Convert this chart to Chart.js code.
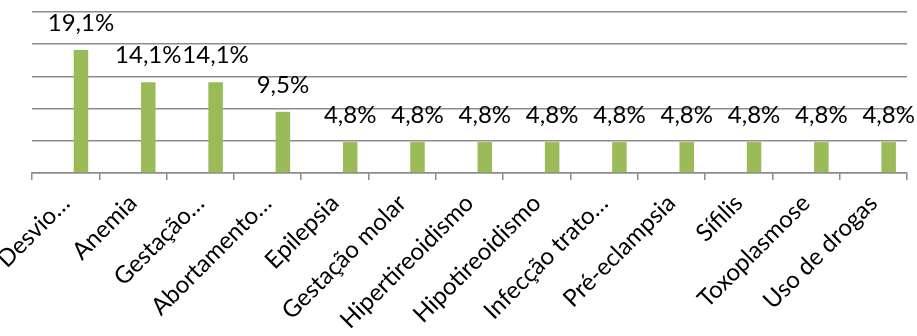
<!DOCTYPE html>
<html>
<head>
<meta charset="utf-8">
<script src="https://cdn.jsdelivr.net/npm/chart.js@4"></script>
<style>
  html, body { margin: 0; padding: 0; background: #ffffff; }
  canvas { display: block; }
</style>
</head>
<body>
<canvas id="riscoChart" width="917" height="336"></canvas>
<script>
// categorias e percentuais
const categorias = [
  "Desvio…", "Anemia", "Gestação…", "Abortamento…", "Epilepsia",
  "Gestação molar", "Hipertireoidismo", "Hipotireoidismo", "Infecção trato…",
  "Pré-eclampsia", "Sífilis", "Toxoplasmose", "Uso de drogas"
];
const percentuais = [19.1, 14.1, 14.1, 9.5, 4.8, 4.8, 4.8, 4.8, 4.8, 4.8, 4.8, 4.8, 4.8];
// série sem valores (ocupa a primeira posição de cada grupo)
const serieVazia = categorias.map(() => null);
const escalaMax = 25;
const escalaPasso = 5;

const fonte = "Lato, 'Open Sans', sans-serif";
const cinza = "#8c8c8c";

// rótulo de valor acima de cada barra
const rotulosValor = {
  id: "rotulosValor",
  afterDatasetsDraw(chart) {
    const ctx = chart.ctx;
    const meta = chart.getDatasetMeta(1);
    ctx.save();
    ctx.font = "24px " + fonte;
    ctx.fillStyle = "#000000";
    ctx.textAlign = "center";
    ctx.textBaseline = "bottom";
    meta.data.forEach((barra, i) => {
      const texto = percentuais[i].toFixed(1).replace(".", ",") + "%";
      ctx.fillText(texto, barra.x, barra.y - 15);
    });
    ctx.restore();
  }
};

new Chart(document.getElementById("riscoChart"), {
  type: "bar",
  data: {
    labels: categorias,
    datasets: [
      {
        data: serieVazia,
        backgroundColor: "#4f81bd",
        categoryPercentage: 0.91,
        barPercentage: 0.474
      },
      {
        data: percentuais,
        backgroundColor: "#9bbb59",
        categoryPercentage: 0.91,
        barPercentage: 0.474
      }
    ]
  },
  options: {
    responsive: false,
    animation: false,
    layout: { padding: { top: 12, right: 0, left: 0, bottom: 0 } },
    plugins: {
      legend: { display: false },
      tooltip: { enabled: false }
    },
    scales: {
      x: {
        grid: {
          display: true,
          drawOnChartArea: false,
          offset: true,
          color: cinza,
          lineWidth: 1.5,
          tickLength: 7
        },
        border: { color: cinza, width: 1.5 },
        ticks: {
          minRotation: 45,
          maxRotation: 45,
          autoSkip: false,
          color: "#000000",
          font: { family: fonte, size: 24 },
          padding: 9
        },
        afterFit(escala) {
          escala.height = 163;
          escala.paddingLeft = 32;
          escala.paddingRight = 10;
        }
      },
      y: {
        min: 0,
        max: escalaMax,
        ticks: { display: false, stepSize: escalaPasso },
        grid: { color: cinza, lineWidth: 1.5, drawTicks: false },
        border: { display: false },
        afterFit(escala) { escala.width = 0; }
      }
    }
  },
  plugins: [rotulosValor]
});
</script>
</body>
</html>
